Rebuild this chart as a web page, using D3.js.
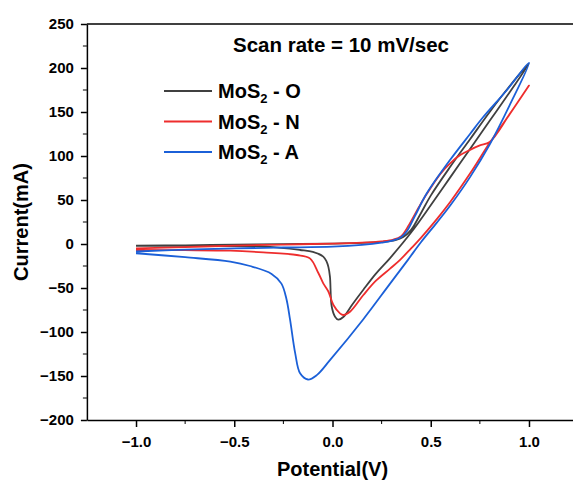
<!DOCTYPE html>
<html>
<head>
<meta charset="utf-8">
<script src="https://cdn.jsdelivr.net/npm/d3@7"></script>
<style>
  body { margin: 0; background: #fff; }
  text { font-family: 'Liberation Sans', Arial, sans-serif; font-weight: bold; fill: #000; }
</style>
</head>
<body>
<svg width="573" height="483"></svg>
<script>
// cyclic voltammograms, scan rate 10 mV/s (forward sweep then reverse sweep)
const potentialO = [-1.0, -0.75, -0.5, -0.25, 0.0, 0.15, 0.25, 0.32, 0.36, 0.40, 0.45, 0.5, 0.6, 0.7, 0.8, 0.9, 1.0,
    0.9, 0.8, 0.7, 0.6, 0.5, 0.4, 0.293, 0.22, 0.157, 0.1, 0.055, 0.03, 0.013, -0.004, -0.013, -0.021, -0.03, -0.047, -0.1, -0.165, -0.335, -0.6, -1.0];
const currentO = [-2.0, -1.5, -0.8, -0.2, 0.4, 1.2, 2.5, 4.5, 8, 16, 35, 55, 88, 119, 150, 179, 205,
    172, 140, 108, 76, 44, 13, -16, -34, -52, -69, -83, -86, -82.6, -71, -37, -26, -20, -14.4, -9, -6.8, -3, -2.3, -2.0];

const potentialN = [-1.0, -0.75, -0.5, -0.25, 0.0, 0.15, 0.25, 0.31, 0.35, 0.39, 0.44, 0.48, 0.55, 0.6, 0.65, 0.7, 0.75, 0.8, 0.9, 1.0,
    0.9, 0.8, 0.7, 0.6, 0.53, 0.45, 0.4, 0.344, 0.293, 0.22, 0.157, 0.089, 0.055, 0.038, 0.004, -0.021, -0.047, -0.072, -0.115, -0.182, -0.352, -0.52, -0.75, -1.0];
const currentN = [-5.0, -3.5, -1.8, -0.6, 0.4, 1.5, 3, 5, 9, 22, 42, 57, 80, 92, 101, 107, 112, 116, 147, 180,
    147, 115, 80, 48, 28, 7, -5, -18, -28, -42, -58, -77, -80.7, -78.8, -69, -54, -44.7, -33, -16.3, -12.5, -9.5, -7.6, -7.0, -6.8];

const potentialA = [-1.0, -0.75, -0.5, -0.25, 0.0, 0.15, 0.25, 0.3, 0.35, 0.38, 0.42, 0.48, 0.6, 0.7, 0.766, 0.888, 1.0,
    0.9, 0.8, 0.7, 0.6, 0.53, 0.45, 0.384, 0.293, 0.155, -0.013, -0.08, -0.125, -0.165, -0.19, -0.216, -0.235, -0.26, -0.31, -0.42, -0.52, -0.75, -1.0];
const currentA = [-8.5, -6.5, -5.0, -4.0, -3.0, -1.0, 1.5, 3.5, 8, 15, 32, 57.6, 96, 125, 144, 175, 206,
    157, 113, 76, 44, 24, 2, -18, -45, -86, -132, -149, -154, -147, -124, -86, -62, -45, -34, -25, -20, -15, -10.5];

const seriesNames = ['O', 'N', 'A'];
const seriesColors = ['#404040', '#ee2d2d', '#1b60d8'];

const xTicks = [-1.0, -0.5, 0.0, 0.5, 1.0];
const xMinor = [-0.75, -0.25, 0.25, 0.75];
const yTicks = [-200, -150, -100, -50, 0, 50, 100, 150, 200, 250];
const yMinor = [-175, -125, -75, -25, 25, 75, 125, 175, 225];

const svg = d3.select('svg');
const width = +svg.attr('width');

const x = d3.scaleLinear().domain([-1.25, 1.25]).range([86.9, 578.1]);
const y = d3.scaleLinear().domain([-200, 250]).range([420, 24]);

const series = [
    {name: seriesNames[0], color: seriesColors[0], pts: d3.zip(potentialO, currentO)},
    {name: seriesNames[1], color: seriesColors[1], pts: d3.zip(potentialN, currentN)},
    {name: seriesNames[2], color: seriesColors[2], pts: d3.zip(potentialA, currentA)}
];

const line = d3.line()
    .x(d => x(d[0]))
    .y(d => y(d[1]))
    .curve(d3.curveCatmullRom.alpha(0.5));

svg.append('g')
    .selectAll('path')
    .data(series)
    .enter().append('path')
    .attr('fill', 'none')
    .attr('stroke', d => d.color)
    .attr('stroke-width', 1.8)
    .attr('stroke-linejoin', 'round')
    .attr('d', d => line(d.pts));

// axes
const fmtX = d3.format('.1f');
const xAxis = svg.append('g')
    .attr('transform', `translate(0,${y(-200)})`)
    .call(d3.axisBottom(x).tickValues(xTicks).tickFormat(fmtX).tickSize(7).tickPadding(9).tickSizeOuter(0));
xAxis.append('g')
    .selectAll('line')
    .data(xMinor)
    .enter().append('line')
    .attr('x1', d => x(d)).attr('x2', d => x(d))
    .attr('y1', 0).attr('y2', 4)
    .attr('stroke', '#000');

const yAxis = svg.append('g')
    .attr('transform', `translate(${x(-1.25)},0)`)
    .call(d3.axisLeft(y).tickValues(yTicks).tickSize(6).tickPadding(7).tickSizeOuter(0));
yAxis.append('g')
    .selectAll('line')
    .data(yMinor)
    .enter().append('line')
    .attr('y1', d => y(d)).attr('y2', d => y(d))
    .attr('x1', 0).attr('x2', -4)
    .attr('stroke', '#000');

svg.selectAll('.domain, .tick line').attr('stroke', '#000').attr('stroke-width', 1.5);
svg.selectAll('.tick text').attr('font-size', 15).attr('font-family', null).attr('fill', '#000');

// top frame line
svg.append('line')
    .attr('x1', x(-1.25)).attr('x2', width)
    .attr('y1', y(250)).attr('y2', y(250))
    .attr('stroke', '#000').attr('stroke-width', 1.5);

// titles
svg.append('text')
    .attr('x', 233).attr('y', 52)
    .attr('font-size', 20.5)
    .text('Scan rate = 10 mV/sec');

svg.append('text')
    .attr('x', x(0)).attr('y', 476)
    .attr('text-anchor', 'middle')
    .attr('font-size', 20)
    .text('Potential(V)');

svg.append('text')
    .attr('transform', `translate(28,${y(25)}) rotate(-90)`)
    .attr('text-anchor', 'middle')
    .attr('font-size', 20)
    .text('Current(mA)');

// legend
const legend = svg.append('g')
    .selectAll('g')
    .data(series)
    .enter().append('g')
    .attr('transform', (d, i) => `translate(164,${91 + i * 30.5})`);

legend.append('line')
    .attr('x1', 0).attr('x2', 48)
    .attr('stroke', d => d.color)
    .attr('stroke-width', 1.8);

const lt = legend.append('text')
    .attr('x', 54).attr('y', 7)
    .attr('font-size', 20);
lt.append('tspan').text('MoS');
lt.append('tspan').attr('font-size', 13).attr('dy', 5).text('2');
lt.append('tspan').attr('dy', -5).text(d => ' - ' + d.name);
</script>
</body>
</html>
